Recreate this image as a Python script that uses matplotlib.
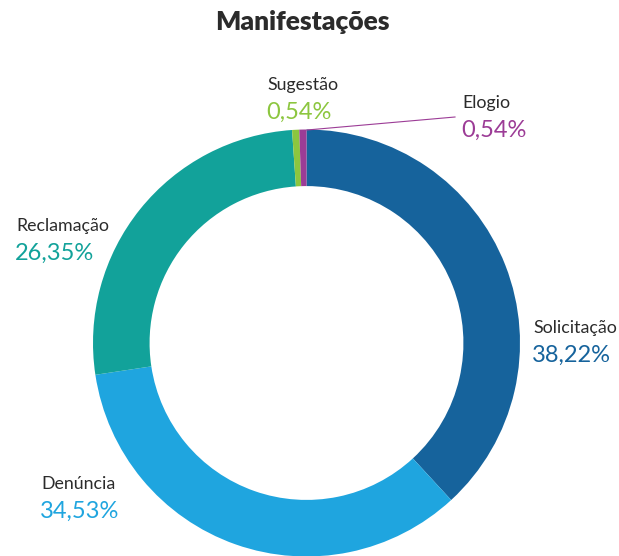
import matplotlib.pyplot as plt

categories = ['Solicitação', 'Denúncia', 'Reclamação', 'Sugestão', 'Elogio']
values = [38.22, 34.53, 26.35, 0.54, 0.54]
colors = ['#16639c', '#1fa5df', '#12a29a', '#8cc63f', '#9c3c96']

# label anchor (left x, name centre y) in pixel coords, y measured from top
label_pos = {
    'Solicitação': (533, 328),
    'Denúncia': (41, 484),
    'Reclamação': (16, 226),
    'Sugestão': (267, 85),
    'Elogio': (462, 103),
}

W, H = 619, 556
plt.rcParams['font.family'] = ['Lato', 'DejaVu Sans']

fig = plt.figure(figsize=(W / 100, H / 100), dpi=100)
ax = fig.add_axes([0, 0, 1, 1])
ax.set_xlim(0, W)
ax.set_ylim(0, H)
ax.set_aspect('equal')
ax.axis('off')

cx, cy, r = 306.5, H - 343, 213.5
ax.pie(values, colors=colors, startangle=90, counterclock=False,
       center=(cx, cy), radius=r, wedgeprops=dict(width=r * 0.265, linewidth=0))
ax.set_xlim(0, W)
ax.set_ylim(0, H)

for name, val, col in zip(categories, values, colors):
    x, y = label_pos[name]
    ax.text(x, H - y, name, fontsize=12.8, color='#2b2b2b', va='center', ha='left')
    pct = f'{val:.2f}'.replace('.', ',') + '%'
    ax.text(x - 1, H - y - 27, pct, fontsize=17, color=col, va='center', ha='left')

# leader line for Elogio
ax.plot([455, 307], [H - 117, H - 130], color='#9c3c96', lw=0.8)

fig.text(302 / W, 1 - 22 / H, 'Manifestações', fontsize=19, fontweight='heavy',
         color='#2b2b2b', ha='center', va='center')

fig.savefig('out.png', dpi=100)
